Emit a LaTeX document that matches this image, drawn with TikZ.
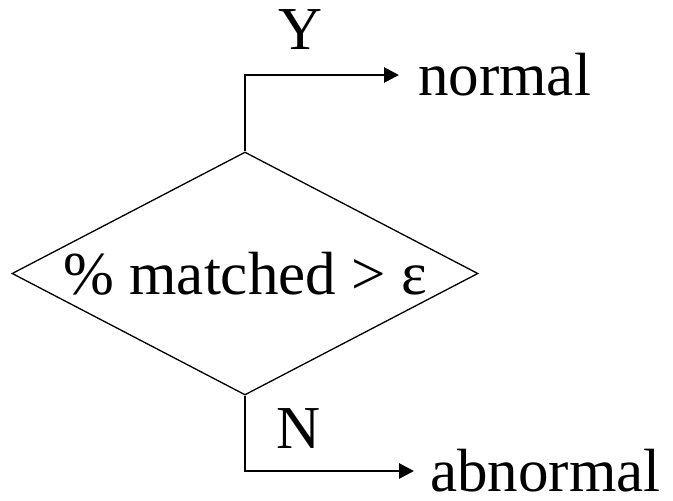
\documentclass[tikz,border=0pt]{standalone}
\usepackage{fontspec}
\setmainfont{Liberation Serif}
\usetikzlibrary{shapes.geometric,arrows.meta}
\begin{document}
\begin{tikzpicture}[x=1pt, y=-1pt,
    flow/.style={-{Triangle[length=15pt,width=15pt]}, line width=2.8pt},
    txt/.style={font=\fontsize{61}{70}\selectfont, inner sep=0pt}]
    \useasboundingbox (0,0) rectangle (673,501);
    % decision
    \node[diamond, draw, line width=1.3pt, aspect=1.92, minimum width=466pt, minimum height=243pt, txt] (dec) at (245,273.5) {\% matched > ε};
    % outcomes
    \node[txt, anchor=west] (normal) at (418,75) {normal};
    \node[txt, anchor=west] (abnormal) at (430,471) {abnormal};
    \node[txt] (yes) at (301,30) {Y};
    \node[txt] (no) at (299,429) {N};
    % branches
    \draw[flow, shorten >=19pt] (dec.north) |- (normal.west);
    \draw[flow, shorten >=16pt] (dec.south) |- (abnormal.west);
\end{tikzpicture}
\end{document}
